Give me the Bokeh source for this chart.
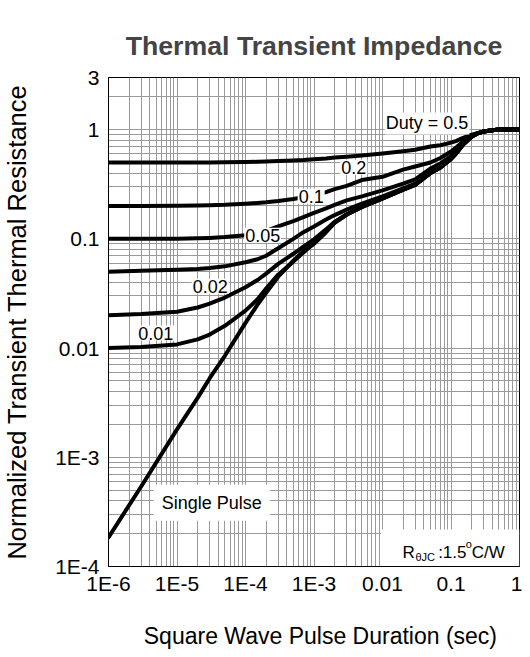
from bokeh.plotting import figure
from bokeh.models import Range1d, FixedTicker, CustomJSTickFormatter, Label, BoxAnnotation
from bokeh.embed import file_html
from bokeh.resources import INLINE

# ---------------- data ----------------
t = [1e-6, 3e-6, 1e-5, 2e-5, 3e-5, 5e-5, 1e-4, 1.5e-4, 2e-4, 3e-4, 5e-4, 7e-4, 1e-3,
     1.5e-3, 2e-3, 3e-3, 5e-3, 1e-2, 2e-2, 3e-2, 5e-2, 7e-2, 0.1, 0.12, 0.15, 0.2,
     0.25, 0.3, 0.4, 0.5, 1.0]

duty_0_5 = [0.50, 0.50, 0.50, 0.50, 0.50, 0.502, 0.505, 0.507, 0.51, 0.515, 0.522, 0.527, 0.535,
            0.545, 0.555, 0.565, 0.58, 0.605, 0.635, 0.655, 0.70, 0.72, 0.76, 0.79, 0.84, 0.90,
            0.93, 0.96, 0.985, 1.0, 1.0]
duty_0_2 = [0.20, 0.20, 0.201, 0.202, 0.203, 0.205, 0.21, 0.213, 0.216, 0.222, 0.232, 0.24, 0.25,
            0.268, 0.285, 0.305, 0.345, 0.37, 0.43, 0.46, 0.50, 0.55, 0.63, 0.69, 0.78, 0.88,
            0.93, 0.96, 0.985, 1.0, 1.0]
duty_0_1 = [0.10, 0.10, 0.10, 0.101, 0.102, 0.104, 0.108, 0.113, 0.118, 0.13, 0.145, 0.158, 0.173,
            0.19, 0.205, 0.225, 0.245, 0.278, 0.32, 0.35, 0.44, 0.49, 0.57, 0.64, 0.75, 0.87,
            0.93, 0.96, 0.985, 1.0, 1.0]
duty_0_05 = [0.050, 0.051, 0.052, 0.053, 0.054, 0.056, 0.061, 0.065, 0.07, 0.082, 0.10, 0.115, 0.13,
             0.15, 0.165, 0.185, 0.21, 0.245, 0.29, 0.32, 0.40, 0.45, 0.54, 0.61, 0.73, 0.86,
             0.93, 0.96, 0.985, 1.0, 1.0]
duty_0_02 = [0.020, 0.0205, 0.0215, 0.0235, 0.0255, 0.029, 0.036, 0.042, 0.048, 0.059, 0.073, 0.085, 0.099,
             0.122, 0.143, 0.168, 0.197, 0.235, 0.283, 0.313, 0.40, 0.45, 0.54, 0.61, 0.73, 0.86,
             0.93, 0.96, 0.985, 1.0, 1.0]
duty_0_01 = [0.0100, 0.0102, 0.0108, 0.0120, 0.0133, 0.016, 0.022, 0.028, 0.035, 0.047, 0.062, 0.075, 0.091,
             0.117, 0.141, 0.167, 0.196, 0.234, 0.282, 0.312, 0.40, 0.45, 0.54, 0.61, 0.73, 0.86,
             0.93, 0.96, 0.985, 1.0, 1.0]
single_pulse = [1.85e-4, 5.4e-4, 1.8e-3, 3.5e-3, 5.3e-3, 8.5e-3, 0.017, 0.025, 0.032, 0.045, 0.063, 0.077, 0.09,
                0.115, 0.14, 0.166, 0.195, 0.233, 0.281, 0.311, 0.40, 0.45, 0.54, 0.61, 0.73, 0.86,
                0.93, 0.96, 0.985, 1.0, 1.0]

series = [duty_0_5, duty_0_2, duty_0_1, duty_0_05, duty_0_02, duty_0_01, single_pulse]

curve_labels = ["Duty = 0.5", "0.2", "0.1", "0.05", "0.02", "0.01", "Single Pulse"]
label_x = [0.0108, 0.00242, 5.77e-4, 9.57e-5, 1.64e-5, 2.62e-6, 4.58e-6]
label_y = [1.14, 0.452, 0.245, 0.108, 0.0368, 0.0137, 3.83e-4]

x_ticks = [1e-6, 1e-5, 1e-4, 1e-3, 1e-2, 1e-1, 1.0]
x_tick_labels = ["1E-6", "1E-5", "1E-4", "1E-3", "0.01", "0.1", "1"]
y_ticks = [1e-4, 1e-3, 1e-2, 1e-1, 1.0, 3.0]
y_tick_labels = ["1E-4", "1E-3", "0.01", "0.1", "1", "3"]
x_minor = [m * 10.0 ** e for e in range(-6, 0) for m in range(2, 10)]
y_minor = [m * 10.0 ** e for e in range(-4, 0) for m in range(2, 10)] + [2.0]

FONT = "Liberation Sans"

p = figure(width=522, height=651, x_axis_type="log", y_axis_type="log",
           x_range=Range1d(1e-6, 1.0), y_range=Range1d(1e-4, 3.0),
           output_backend="svg", toolbar_location=None,
           min_border_left=102, min_border_right=3, min_border_top=77, min_border_bottom=85)

p.title.text = "Thermal Transient Impedance"
p.title.align = "center"
p.title.text_font = FONT
p.title.text_font_size = "26.7px"
p.title.text_font_style = "bold"
p.title.standoff = 34

p.outline_line_color = "black"
p.outline_line_width = 1
p.background_fill_color = "white"
p.border_fill_color = "white"

fmt_code = """
for (let i = 0; i < vals.length; i++) {
  if (Math.abs(tick - vals[i]) <= 1e-9 * vals[i]) { return labs[i]; }
}
return "";
"""
p.xaxis.ticker = FixedTicker(ticks=x_ticks, minor_ticks=x_minor)
p.yaxis.ticker = FixedTicker(ticks=y_ticks, minor_ticks=y_minor)
p.xaxis.formatter = CustomJSTickFormatter(args=dict(vals=x_ticks, labs=x_tick_labels), code=fmt_code)
p.yaxis.formatter = CustomJSTickFormatter(args=dict(vals=y_ticks, labs=y_tick_labels), code=fmt_code)

for ax in (p.xaxis, p.yaxis):
    ax.major_tick_out = 0
    ax.major_tick_in = 0
    ax.minor_tick_out = 0
    ax.minor_tick_in = 0
    ax.axis_line_color = "black"
    ax.major_label_text_font = FONT
    ax.major_label_text_font_size = "21px"
    ax.major_label_text_color = "black"
    ax.axis_label_text_font = FONT
    ax.axis_label_text_font_style = "normal"
    ax.axis_label_text_color = "black"

p.xaxis.axis_label = "\u00a0\u00a0Square Wave Pulse Duration (sec)"
p.xaxis.axis_label_text_font_size = "23px"
p.xaxis.major_label_standoff = 5
p.xaxis.axis_label_standoff = 25

p.yaxis.axis_label = "Normalized Transient Thermal Resistance"
p.yaxis.axis_label_text_font_size = "25.5px"
p.yaxis.major_label_standoff = 9
p.yaxis.axis_label_standoff = 21

for g in (p.xgrid, p.ygrid):
    g.grid_line_color = "#9a9a9a"
    g.grid_line_width = 1
    g.minor_grid_line_color = "#9a9a9a"
    g.minor_grid_line_width = 1

for ys in series:
    p.line(t, ys, line_color="black", line_width=4, line_join="round", line_cap="round")

for txt, lx, ly in zip(curve_labels, label_x, label_y):
    pad = 8 if txt == "Single Pulse" else 1
    p.add_layout(Label(x=lx, y=ly, text=txt, text_font=FONT, text_font_size="18px",
                       text_align="left", text_baseline="middle", text_color="black",
                       background_fill_color="white", padding=pad))

# R_thetaJC annotation box
p.add_layout(BoxAnnotation(left=0.00946, right=1.0, bottom=1e-4, top=2.18e-4,
                           fill_color="white", fill_alpha=1.0, line_color=None, level="glyph"))
r_parts = [("R", 0.0196, 1.34e-4, "17px"), ("\u03b8JC", 0.0302, 1.21e-4, "11px"),
           (":1.5", 0.0649, 1.34e-4, "17px"), ("o", 0.1648, 1.62e-4, "11px"),
           ("C/W", 0.2009, 1.34e-4, "17px")]
for txt, lx, ly, fs in r_parts:
    p.add_layout(Label(x=lx, y=ly, text=txt, text_font=FONT, text_font_size=fs,
                       text_align="left", text_baseline="alphabetic", text_color="black"))

open("out.html", "w").write(file_html(p, INLINE))
